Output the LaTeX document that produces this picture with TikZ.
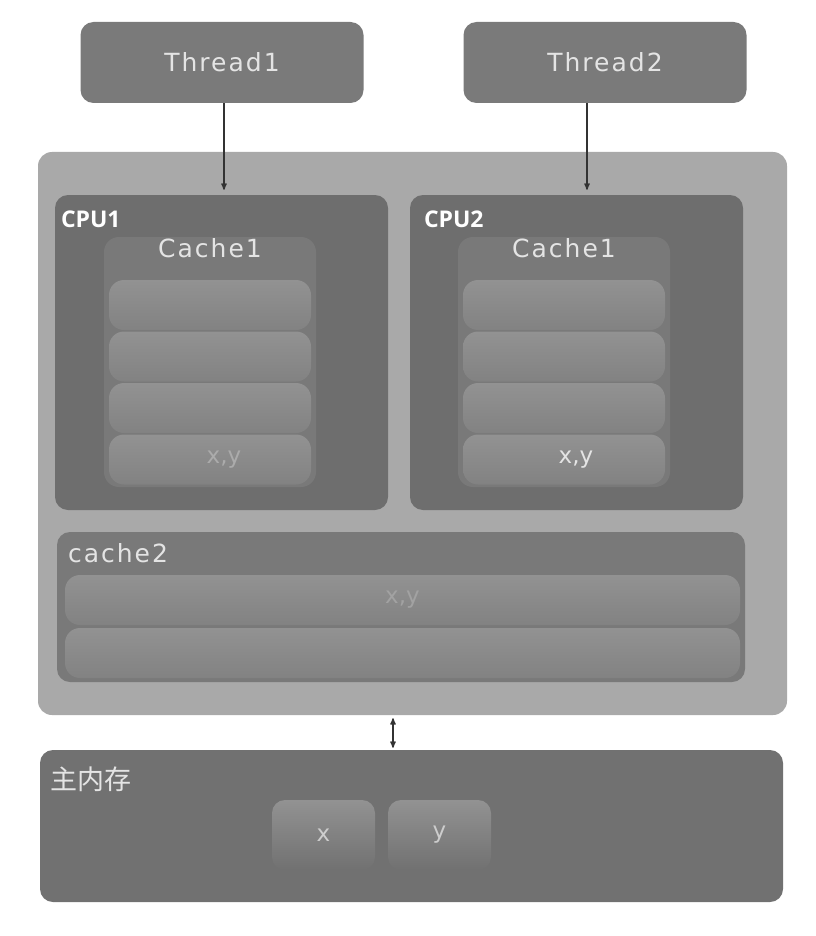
\documentclass[tikz,border=0pt]{standalone}
\usepackage{fontspec}
\setmainfont{DejaVu Sans}
\newfontfamily\labfont[LetterSpace=8]{DejaVu Sans}
\newfontfamily\cjkfont{Noto Sans CJK SC}
\newfontfamily\cpufont{Open Sans}
\usepgflibrary{arrows}
\definecolor{sysgray}{HTML}{A9A9A9}
\definecolor{thrgray}{HTML}{7A7A7A}
\definecolor{cpugray}{HTML}{6E6E6E}
\definecolor{cachegray}{HTML}{797979}
\definecolor{rowtop}{HTML}{929292}
\definecolor{rowbot}{HTML}{828282}
\definecolor{memgray}{HTML}{717171}
\definecolor{txtgray}{HTML}{E4E4E4}
\definecolor{arrgray}{HTML}{333333}
\tikzstyle{arr}=[->,>=stealth',line width=1.3pt,color=arrgray]
\tikzstyle{darr}=[<->,>=stealth',line width=1.3pt,color=arrgray]

\begin{document}
\begin{tikzpicture}[x=1pt,y=-1pt]
  \tikzstyle box=[rounded corners=13pt,inner sep=0pt];
  \tikzstyle thr=[box,fill=thrgray,minimum width=283pt,minimum height=81pt,text=txtgray,font=\labfont\fontsize{25}{28}\selectfont];
  \tikzstyle sys=[box,rounded corners=14pt,fill=sysgray,minimum width=749pt,minimum height=563pt];
  \tikzstyle cpu=[box,fill=cpugray,minimum width=333pt,minimum height=315pt];
  \tikzstyle cache=[box,rounded corners=15pt,fill=cachegray,minimum width=212pt,minimum height=250pt];
  \tikzstyle row=[box,rounded corners=15pt,top color=rowtop,bottom color=rowbot,minimum width=202pt,minimum height=50pt];
  \tikzstyle cell=[box,top color=rowtop,bottom color=memgray,minimum width=103pt,minimum height=70pt,text=txtgray!90!black,font=\fontsize{23}{26}\selectfont];
  \tikzstyle lab=[inner sep=0pt,text=txtgray,font=\labfont\fontsize{25}{28}\selectfont];
  \tikzstyle cpulab=[inner sep=0pt,text=white,font=\cpufont\bfseries\fontsize{23}{26}\selectfont];
  \tikzstyle xy=[inner sep=0pt,font=\fontsize{23}{26}\selectfont];

  \useasboundingbox[fill=white] (0,0) rectangle (815,936);

  % threads
  \node[thr] (t1) at (222,62.5) {Thread1};
  \node[thr] (t2) at (605,62.5) {Thread2};

  % cpus
  \node[sys] (sys) at (412.5,433.5) {};
  \node[cpu] (cpu1) at (221.5,352.5) {};
  \node[cpu] (cpu2) at (576.5,352.5) {};
  \node[cpulab,anchor=base west] at ([xshift=6pt,yshift=-33pt]cpu1.north west) {CPU1};
  \node[cpulab,anchor=base west] at ([xshift=14pt,yshift=-33pt]cpu2.north west) {CPU2};

  % cache1
  \node[cache] (ca) at (210,362) {};
  \node[cache] (cb) at (564,362) {};
  \node[lab,anchor=base] at ([yshift=-21pt]ca.north) {Cache1};
  \node[lab,anchor=base] at ([yshift=-21pt]cb.north) {Cache1};
  \foreach \i in {0,...,3} {
    \node[row] (ra\i) at (210,{305+51.5*\i}) {};
    \node[row] (rb\i) at (564,{305+51.5*\i}) {};
  }
  \node[xy,text=txtgray!75!black] at ([xshift=14pt]ra3) {x,y};
  \node[xy,text=txtgray] at ([xshift=12pt]rb3) {x,y};

  % cache2
  \node[box,fill=cachegray,minimum width=688pt,minimum height=150pt] (c2) at (401,607) {};
  \node[lab,anchor=base west] at ([xshift=11pt,yshift=-31pt]c2.north west) {cache2};
  \node[row,minimum width=675pt] (s0) at (402.5,600) {};
  \node[row,minimum width=675pt] (s1) at (402.5,653) {};
  \node[xy,text=rowtop!85!white] at (s0) {x,y};

  % main memory
  \node[box,fill=memgray,minimum width=743pt,minimum height=152pt] (mem) at (411.5,826) {};
  \node[inner sep=0pt,anchor=base west,text=txtgray,font=\cjkfont\fontsize{27}{30}\selectfont]
    at ([xshift=10pt,yshift=-40pt]mem.north west) {主内存};
  \node[cell] (mx) at (323.5,835) {x};
  \node[cell] (my) at (439.5,835) {y};

  % arrows
  \draw[arr,shorten >=5pt] ([xshift=2pt]t1.south) -- ([xshift=2pt]t1.south |- cpu1.north);
  \draw[arr,shorten >=5pt] ([xshift=-18pt]t2.south) -- ([xshift=-18pt]t2.south |- cpu2.north);
  \draw[darr,shorten <=3pt,shorten >=2pt] ([xshift=-19.5pt]sys.south) -- ([xshift=-19.5pt]sys.south |- mem.north);
\end{tikzpicture}
\end{document}
